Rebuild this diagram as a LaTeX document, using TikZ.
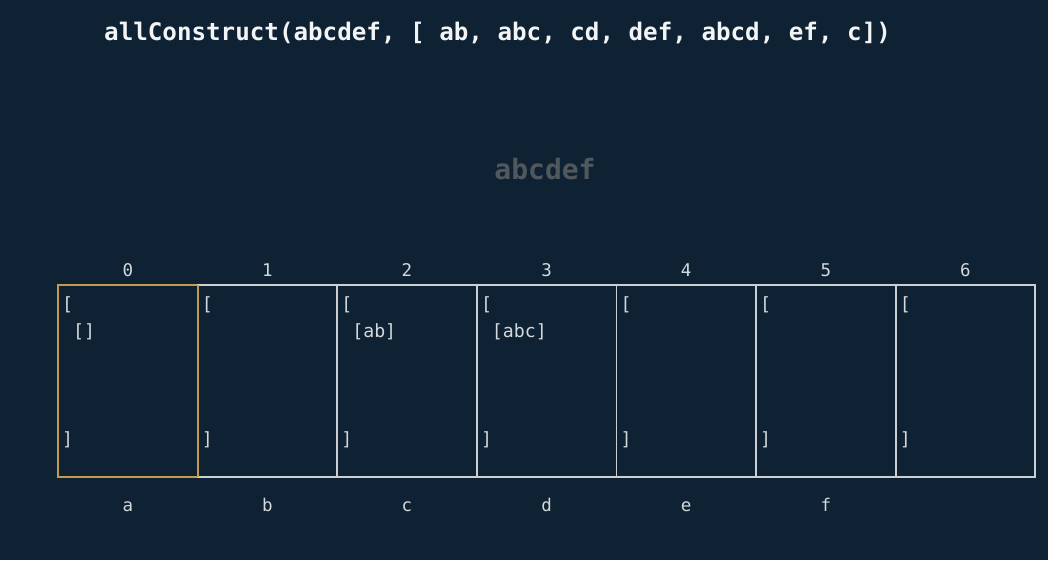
\documentclass[tikz,border=0pt]{standalone}
\usepackage{fontspec}
\setmonofont{DejaVu Sans Mono}
\usetikzlibrary{positioning}
\definecolor{bgdark}{HTML}{0F2233}
\definecolor{titlewhite}{HTML}{F2F4F5}
\definecolor{wordgrey}{HTML}{51585D}
\definecolor{celltext}{HTML}{D3D8DB}
\definecolor{cellline}{HTML}{C9CFD3}
\definecolor{activeline}{HTML}{C49A52}

\begin{document}
\begin{tikzpicture}[x=1pt, y=-1pt, node distance=0pt]
\tikzset{
    cellbox/.style={rectangle, draw=cellline, line width=1.8pt, minimum width=139.6pt, minimum height=192pt, inner sep=0pt, outer sep=0pt},
    idxlabel/.style={font=\ttfamily\fontsize{17.5}{20}\selectfont, text=celltext, inner sep=0pt, text height=12pt, text depth=0pt},
    entry/.style={font=\ttfamily\fontsize{18.2}{27}\selectfont, text=celltext, align=left, inner sep=0pt},
    titletext/.style={font=\ttfamily\bfseries\fontsize{24.2}{28}\selectfont, text=titlewhite, inner sep=0pt},
    wordtext/.style={font=\ttfamily\bfseries\fontsize{28}{32}\selectfont, text=wordgrey, inner sep=0pt}
}
\fill[bgdark] (0,0) rectangle (1048,560);
\useasboundingbox (0,0) rectangle (1048,560);

\node[titletext, anchor=base west] (title) at (104,40) {allConstruct(abcdef, [ ab, abc, cd, def, abcd, ef, c])};
\node[wordtext, anchor=base] (word) at (545,179) {abcdef};

% table cells, one per index of the target string
\node[cellbox, draw=activeline] (c0) at (127.8,381) {};
\node[cellbox, right=of c0] (c1) {};
\node[cellbox, right=of c1] (c2) {};
\node[cellbox, right=of c2] (c3) {};
\node[cellbox, right=of c3] (c4) {};
\node[cellbox, right=of c4] (c5) {};
\node[cellbox, right=of c5] (c6) {};
\draw[activeline, line width=1.8pt] (c0.north east) -- (c0.south east);
% the shared edge is drawn again so the current cell keeps its colour

\node[idxlabel, above=8pt of c0] (i0) {0};
\node[idxlabel, above=8pt of c1] (i1) {1};
\node[idxlabel, above=8pt of c2] (i2) {2};
\node[idxlabel, above=8pt of c3] (i3) {3};
\node[idxlabel, above=8pt of c4] (i4) {4};
\node[idxlabel, above=8pt of c5] (i5) {5};
\node[idxlabel, above=8pt of c6] (i6) {6};

\node[idxlabel, below=22pt of c0] (ch0) {a};
\node[idxlabel, below=22pt of c1] (ch1) {b};
\node[idxlabel, below=22pt of c2] (ch2) {c};
\node[idxlabel, below=22pt of c3] (ch3) {d};
\node[idxlabel, below=22pt of c4] (ch4) {e};
\node[idxlabel, below=22pt of c5] (ch5) {f};

\node[entry, below right=11.5pt and 4pt of c0.north west] (e0) {[\\\ []\\~\\~\\~\\]};
\node[entry, below right=11.5pt and 4pt of c1.north west] (e1) {[\\~\\~\\~\\~\\]};
\node[entry, below right=11.5pt and 4pt of c2.north west] (e2) {[\\\ [ab]\\~\\~\\~\\]};
\node[entry, below right=11.5pt and 4pt of c3.north west] (e3) {[\\\ [abc]\\~\\~\\~\\]};
\node[entry, below right=11.5pt and 4pt of c4.north west] (e4) {[\\~\\~\\~\\~\\]};
\node[entry, below right=11.5pt and 4pt of c5.north west] (e5) {[\\~\\~\\~\\~\\]};
\node[entry, below right=11.5pt and 4pt of c6.north west] (e6) {[\\~\\~\\~\\~\\]};

\end{tikzpicture}
\end{document}
